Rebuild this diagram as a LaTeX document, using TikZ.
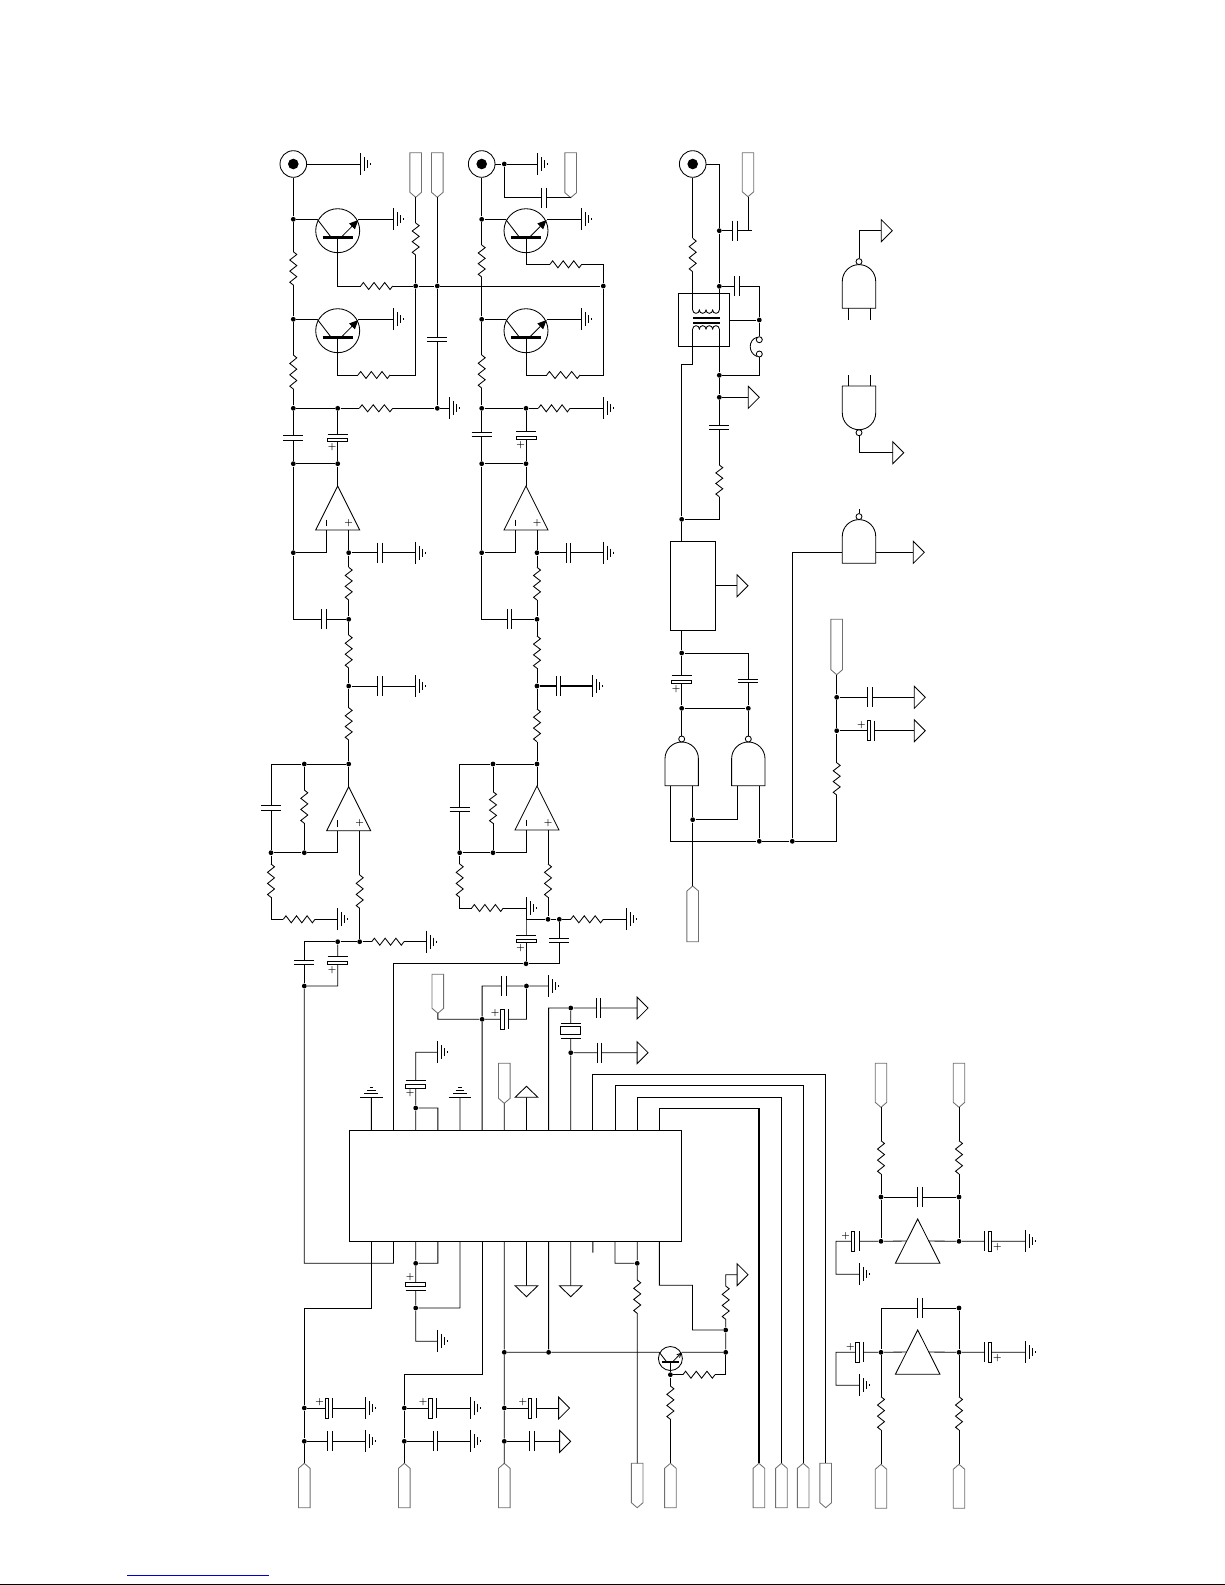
\documentclass[tikz,border=0pt]{standalone}
\usepackage{xcolor}
\usepackage{tikz}
\usetikzlibrary{arrows.meta}
\definecolor{LinkBlue}{HTML}{0000CC}
\definecolor{TagGrey}{HTML}{707070}

\tikzset{
  dot/.style={circle,fill=black,inner sep=0pt,minimum size=4.8pt},
  bubble/.style={circle,draw,fill=white,inner sep=0pt,minimum size=6pt},
  jackring/.style={circle,draw,inner sep=0pt,minimum size=26.6pt},
  jackcore/.style={circle,fill=black,inner sep=0pt,minimum size=10.6pt},
  plate/.style={line width=0.9pt},
  rub/.style={white,line width=2.6pt},
  plusmark/.style={inner sep=0pt,font=\fontsize{9.5}{10}\selectfont\bfseries},
  tagline/.style={draw=TagGrey,fill=white}
}

\newcounter{plusno}
\newcommand{\PlusAt}[2]{\stepcounter{plusno}\node[plusmark] (plus\theplusno) at ({#1},{#2}) {+};}

% terminals: each one leaves a named coordinate for the wires
\newcommand{\GndR}[3]{\coordinate (#1) at (#2,#3);
  \foreach \dd/\hh in {0/11,4/7,7/4,10/1} \draw ({#2+\dd},{#3-\hh}) -- ({#2+\dd},{#3+\hh});}
\newcommand{\GndU}[3]{\coordinate (#1) at (#2,#3);
  \foreach \dd/\hh in {0/11.4,3.4/7,6.7/4.3,10/1.8} \draw ({#2-\hh},{#3-\dd}) -- ({#2+\hh},{#3-\dd});}
\newcommand{\TriR}[3]{\coordinate (#1) at (#2,#3);
  \draw (#2,{#3-11}) -- ({#2+11},#3) -- (#2,{#3+11}) -- cycle;}
\newcommand{\TriU}[3]{\coordinate (#1) at (#2,#3);
  \draw ({#2-11.4},#3) -- (#2,{#3-11}) -- ({#2+11.4},#3) -- cycle;}
\newcommand{\TriD}[3]{\coordinate (#1) at (#2,#3);
  \draw ({#2-11.4},#3) -- (#2,{#3+11}) -- ({#2+11.4},#3) -- cycle;}
\newcommand{\TagD}[4]{\coordinate (#1) at (#2,#4);
  \coordinate (#1-top) at (#2,#3);
  \draw[tagline] ({#2-5.8},#3) -- ({#2+5.8},#3) -- ({#2+5.8},{#4-5}) -- (#2,#4) -- ({#2-5.8},{#4-5}) -- cycle;}
\newcommand{\TagU}[4]{\coordinate (#1) at (#2,#3);
  \draw[tagline] ({#2-5.8},#4) -- ({#2+5.8},#4) -- ({#2+5.8},{#3+5}) -- (#2,#3) -- ({#2-5.8},{#3+5}) -- cycle;}

% larger parts
\newcommand{\OpAmp}[3]{\coordinate (#1-o) at (#2,#3);
  \coordinate (#1-m) at ({#2-11},{#3+44});
  \coordinate (#1-p) at ({#2+11},{#3+44});
  \draw (#2,#3) -- ({#2-22},{#3+44}) -- ({#2+22},{#3+44}) -- cycle;
  \draw ({#2-11},{#3+33.5}) -- ({#2-11},{#3+40});
  \PlusAt{#2+11}{#3+36.7}}
\newcommand{\BufUp}[3]{\coordinate (#1-l) at ({#2-11},{#3+22});
  \coordinate (#1-r) at ({#2+11},{#3+22});
  \draw (#2,#3) -- ({#2-22.3},{#3+44.3}) -- ({#2+22.3},{#3+44.3}) -- cycle;}
\newcommand{\Npn}[5]{\begin{scope}[shift={(#2,#3)},scale=#4]
  \coordinate (#1-c) at (-20.4,-11.4);
  \coordinate (#1-e) at (20.6,-11.4);
  \coordinate (#1-b) at (0,6.6);
  \draw (0,0) circle[radius=22];
  \draw[line width=#4*2.7pt] (-15,6.6) -- (15,6.6);
  \draw (#1-c) -- (-7,6);
  \draw[#5] (4,6) -- (20.6,-10.7);
  \end{scope}}
\newcommand{\NandUp}[3]{\coordinate (#1-a) at ({#2-11},#3);
  \coordinate (#1-b) at ({#2+11},#3);
  \coordinate (#1-l) at ({#2-16.7},{#3-11});
  \coordinate (#1-r) at ({#2+16.7},{#3-11});
  \draw ({#2-16.7},#3) -- ({#2-16.7},{#3-27}) arc[start angle=180,end angle=0,radius=16.7pt] -- ({#2+16.7},#3) -- cycle;
  \node[bubble] (#1-q) at (#2,{#3-46.7}) {};}
\newcommand{\NandDown}[3]{\coordinate (#1-a) at ({#2-11},#3);
  \coordinate (#1-b) at ({#2+11},#3);
  \draw ({#2-16.7},#3) -- ({#2-16.7},{#3+27}) arc[start angle=180,end angle=360,radius=16.7pt] -- ({#2+16.7},#3) -- cycle;
  \node[bubble] (#1-q) at (#2,{#3+46.7}) {};}

% parts that sit on a wire, drawn after the wires
\newcommand{\ResV}[3]{\draw[rub] (#1,#2) -- (#1,#3);
  \draw (#1,#2) \foreach \ss/\nn in {3.5/1,-7/2,7/2,-7/2,7/2,-7/2,3.5/1} { -- ++(\ss,{(#3-#2)/12*\nn}) };}
\newcommand{\ResH}[3]{\draw[rub] (#2,#1) -- (#3,#1);
  \draw (#2,#1) \foreach \ss/\nn in {-3.5/1,7/2,-7/2,7/2,-7/2,7/2,-3.5/1} { -- ++({(#3-#2)/12*\nn},\ss) };}
\newcommand{\CapV}[3]{\draw[rub] (#1,#2) -- (#1,#3);
  \draw[plate] ({#1-10},#2) -- ({#1+10},#2) ({#1-10},#3) -- ({#1+10},#3);}
\newcommand{\CapH}[3]{\draw[rub] (#2,#1) -- (#3,#1);
  \draw[plate] (#2,{#1-10}) -- (#2,{#1+10}) (#3,{#1-10}) -- (#3,{#1+10});}
\newcommand{\PolarV}[4]{\fill[white] ({#1-8},#2) rectangle ({#1+8},#3);
  \draw[plate] ({#1-10},#2) -- ({#1+10},#2);
  \draw[fill=white] ({#1-10},#3) rectangle ({#1+10},{#3+3.5});
  \PlusAt{#1-5.5}{#4}}
\newcommand{\PolarH}[5]{\fill[white] (#2,{#1-8}) rectangle (#3,{#1+8});
  \draw[plate] (#2,{#1-10}) -- (#2,{#1+10});
  \draw[fill=white] (#3,{#1-10}) rectangle ({#3+3.5},{#1+10});
  \PlusAt{#4}{#5}}

\begin{document}
\begin{tikzpicture}[x=1pt,y=-1pt,line width=0.85pt,
    bigtip/.style={-{Triangle[length=9pt,width=8pt]}},
    smalltip/.style={-{Straight Barb[length=4pt,width=4pt]}}]
  \useasboundingbox (0,0) rectangle (1225,1585);

  % Footer rules
  \draw[LinkBlue] (127.3,1575) -- (268.7,1575);
  \draw (0,1584.2) -- (1225,1584.2);

  % Jacks
  \foreach \n/\x in {ja/293.3,jb/481.7,jc/692.7} {
    \node[jackring] (\n) at (\x,164) {};
    \node[jackcore] (\n-c) at (\x,164) {};
  }

  % Junction dots
  \foreach \n/\x/\y in {
    a1/293.3/219.3,a2/293.3/319.3,a3/293.3/408.3,a4/337.7/408.3,a5/293.3/463.7,a6/337.7/463.7,
    a7/293.3/552.7,a8/348.7/552.7,a9/348.7/619.3,a10/348.7/686,a11/348.7/764,a12/304.3/764,
    a13/271/852.7,a14/304.3/852.7,a15/359.7/941.7,a16/337.7/941.7,a17/304.3/986,
    s1/415.7/286,s2/437.3/286,s3/603.3/286,s4/437.3/408.3,
    b1/481.7/219.3,b2/481.7/319.3,b3/481.7/408.3,b4/526/408.3,b5/481.7/463.7,b6/526/463.7,
    b7/481.7/552.7,b8/537/552.7,b9/537/619.3,b10/537/686,b11/537/764,b12/493/764,
    b13/459.7/852.7,b14/493/852.7,b15/548/919.3,b16/559.3/919.3,b17/526/963.7,b18/504.3/164,
    c1/719.3/230.7,c2/719.3/286.3,c3/759.3/320,c4/719.3/375.3,c5/719.3/397.3,c6/681.7/519.3,
    c7/681.7/653,c8/681.7/708.3,c9/748.3/708.3,c10/692.7/819.7,c11/759.3/841.3,c12/792.3/841.3,
    c13/836.7/697.3,c14/836.7/730.7,
    d1/415.7/1108,d2/482.15/1019.3,d3/526.45/986,d4/570.75/1008,d5/570.75/1052.7,
    e1/415.7/1263.3,e2/415.7/1308,e3/637.2/1263.3,e4/725.7/1330,e5/725.7/1352.3,
    e6/548.6/1352.3,e7/504.3/1352.3,e8/670.4/1374.7,
    f1/304.3/1408,f2/304.3/1441.3,f3/404.3/1408,f4/404.3/1441.3,f5/504.3/1408,f6/504.3/1441.3,
    g1/881/1197,g2/959/1197,g3/881/1241.3,g4/959/1241.3,g5/959/1308,g6/881/1352.3,g7/959/1352.3
  } \node[dot] (\n) at (\x,\y) {};

  % Corners and free ends
  \foreach \n/\x/\y in {
    sc1/415.7/375,cb1/603.3/264.3,cb2/603.3/375,bw1/526/919.3,
    ct1/692.7/310,ct2/719.3/310,ct3/692.7/329,ct4/719.3/329,cw1/751.7/230.7,cw4/681.7/364,
    h11/825.7/1074.3,h12/803.2/1085.7,h13/781.4/1097.3,h14/758.9/1108.3,
    w1/393.55/1263.3,w2/304.3/1308.3,w3/404.3/1374.3,w4/692.5/1285.3,
    hc1/836/1241.3,hc2/836/1352.3
  } \coordinate (\n) at (\x,\y);

  % Grounds
  \foreach \n/\x/\y in {
    ga1/360/164,ga2/393.3/219.3,ga3/393.3/319.3,ga4/449.3/408.3,ga5/415.7/552.7,ga6/415.7/686,
    ga7/337.7/919.3,ga8/426/941.7,
    gb1/537.3/164,gb2/581.7/219.3,gb3/581.7/319.3,gb4/603.3/408.3,gb5/603.3/552.7,gb6/592.7/686,
    gb7/526/908,gb8/626/919.3,
    gc1/437.85/1052.3,gc2/548.6/986,gc3/437.85/1341.3,
    gf1/365.7/1408,gf2/365.7/1441.3,gf3/470.4/1408,gf4/470.4/1441.3,
    gh1/1025/1241.3,gh2/859.3/1274.3,gh3/1025/1352.3,gh4/859.3/1385.3
  } {\GndR{\n}{\x}{\y}}
  \GndU{gu1}{371.4}{1097.3}
  \GndU{gu2}{460}{1097.3}

  % Arrow flags
  \foreach \n/\x/\y in {
    tc1/748.3/397.3,tc2/881.3/230.7,tc3/892.7/452.7,tc4/913.3/552.3,tc5/737/585.8,
    tc6/914.3/697.3,tc7/914.3/730.7,td1/637.1/1008,td2/637.1/1052.7,te1/737.1/1274.7,
    tf1/558.6/1408,tf2/559.6/1441.3
  } {\TriR{\n}{\x}{\y}}
  \TriU{tu1}{526.45}{1097.3}
  \TriD{tv1}{526.45}{1285.7}
  \TriD{tv2}{570.75}{1285.7}

  % Pointed tags
  \foreach \n/\x/\p/\q in {
    k1/415.7/152.7/197.3,k2/437.3/152.7/197.3,k3/570.7/152.7/197.7,k4/748/152.7/196.7,
    k5/836.7/619.3/674.7,k6/437.85/974.3/1013.3,k7/504.3/1063.3/1103.3,
    k8/881/1063.3/1107.3,k9/959/1063.3/1107.3,k10/637.2/1463.3/1507.7,k11/825.7/1463.3/1507.7
  } {\TagD{\n}{\x}{\p}{\q}}
  \foreach \n/\x/\p/\q in {
    u1/692.7/886/941.7,u2/304.3/1463.3/1507.7,u3/404.3/1463.3/1507.7,u4/504.3/1463.3/1507.7,
    u5/670.4/1463.3/1507.7,u6/758.9/1463.3/1507.7,u7/781.4/1463.3/1507.7,u8/803.2/1463.3/1507.7,
    u9/881/1464.3/1508.3,u10/959/1464.3/1508.3
  } {\TagU{\n}{\x}{\p}{\q}}

  % Main chip
  \draw (349.3,1130) rectangle (681.8,1241.7);
  \foreach \i [evaluate={\px=371.4+(\i-1)*22.15;}] in {1,...,14} {
    \coordinate (pt\i) at (\px,1130);
    \coordinate (pb\i) at (\px,1241.7);
  }

  % Transistors, op amps, buffers
  \Npn{qa}{337.7}{230.7}{1}{bigtip}
  \Npn{qb}{337.7}{330.7}{1}{bigtip}
  \Npn{qc}{526}{230.7}{1}{bigtip}
  \Npn{qd}{526}{330.7}{1}{bigtip}
  \Npn{qs}{670.4}{1358.5}{0.545}{smalltip}
  \OpAmp{oa}{337.7}{486}
  \OpAmp{ob}{348.7}{786.7}
  \OpAmp{oc}{526}{486}
  \OpAmp{od}{537}{786}
  \BufUp{ba}{917.7}{1219}
  \BufUp{bb}{917.7}{1330}

  % Gates
  \NandUp{na}{859}{308.3}
  \NandDown{nb}{859}{386}
  \NandUp{nc}{859}{563.3}
  \NandUp{nd}{681.7}{785.7}
  \NandUp{ne}{748.3}{785.7}

  % Transformer and regulator
  \node[draw,minimum width=51.3pt,minimum height=52.6pt,inner sep=0pt] (tbox) at (703.65,320) {};
  \node[draw,minimum width=45.4pt,minimum height=89pt,inner sep=0pt] (reg) at (693,585.8) {};
  \draw (ct1) \foreach \i in {1,...,4} {arc[start angle=180,end angle=360,radius=3.325pt]};
  \draw (ct3) \foreach \i in {1,...,4} {arc[start angle=180,end angle=0,radius=3.325pt]};
  \draw[line width=2pt] (693.3,318) -- (720,318) (693.3,323) -- (720,323);
  \node[bubble] (sw1) at (759.3,339.7) {};
  \node[bubble] (sw2) at (759.3,354) {};
  \draw (sw1.north west) .. controls (748,340) and (748,353) .. (sw2.south west);

  % Channel 1 wires
  \draw (ja.east) -- (ga1);
  \draw (ja.south) -- (a1) -- (a2) -- (a3) -- (a5) -- (a7) |- (a9);
  \draw (a1) -- (qa-c) (qa-e) -- (ga2) (a2) -- (qb-c) (qb-e) -- (ga3);
  \draw (qa-b) |- (s1) -- (s2) -- (s3);
  \draw (qb-b) |- (sc1) -- (s1) -- (k1);
  \draw (k2) -- (s2) -- (s4) -- (ga4);
  \draw (a3) -- (a4) -- (s4);
  \draw (a4) -- (a6) -- (oa-o) (a5) -- (a6);
  \draw (oa-m) |- (a7) (oa-p) -- (a8) -- (ga5);
  \draw (a8) -- (a9) -- (a10) -- (a11) -- (ob-o) (a10) -- (ga6);
  \draw (a11) -- (a12) -| (a13) -- (a14) -- (a12);
  \draw (ob-m) |- (a14) (a13) |- (ga7);
  \draw (ob-p) -- (a15) -- (ga8) (a15) -- (a16) -| (a17);
  \draw (a16) |- (a17) |- (w1) -- (pb2);

  % Channel 2 wires
  \draw (jb.east) -- (b18) -- (gb1) (b18) |- (k3);
  \draw (jb.south) -- (b1) -- (b2) -- (b3) -- (b5) -- (b7) |- (b9);
  \draw (b1) -- (qc-c) (qc-e) -- (gb2) (b2) -- (qd-c) (qd-e) -- (gb3);
  \draw (qc-b) |- (cb1) -- (s3) -- (cb2) -| (qd-b);
  \draw (b3) -- (b4) -- (gb4) (b4) -- (b6) -- (oc-o) (b5) -- (b6);
  \draw (oc-m) |- (b7) (oc-p) -- (b8) -- (gb5);
  \draw (b8) -- (b9) -- (b10) -- (b11) -- (od-o);
  \draw[line width=1.4pt] (b10) -- (gb6);
  \draw (b11) -- (b12) -| (b13) -- (b14) -- (b12);
  \draw (od-m) |- (b14) (b13) |- (gb7) -- (bw1) -- (b17);
  \draw (od-p) -- (b15) (bw1) -- (b15) -- (b16) -- (gb8);
  \draw (b16) |- (b17) -| (pt2);

  % Output stage wires
  \draw (jc.south) -- (ct1);
  \draw (jc.east) -| (c1) -- (c2) -- (ct2);
  \draw (c1) -- (cw1) (k4) -- (k4 |- cw1);
  \draw (c2) -| (c3) -- (tbox.east) (c3) -- (sw1) (sw2) |- (c4);
  \draw (ct3) |- (cw4) -- (c6) -- (c6 |- reg.north);
  \draw (ct4) -- (c4) -- (c5) -- (tc1) (c5) |- (c6);
  \draw (reg.east) -- (tc5);
  \draw (c6 |- reg.south) -- (c7) -- (c8) -- (nd-q);
  \draw (c7) -| (c9) -- (ne-q) (c8) -- (c9);
  \draw (nd-a) |- (c11) -- (c12) -| (c14) -- (c13) -- (k5);
  \draw (nd-b) -- (c10) -- (u1) (c10) -| (ne-a) (ne-b) -- (c11);
  \draw (c12) |- (nc-l) (nc-r) -- (tc4);
  \draw (c13) -- (tc6) (c14) -- (tc7);
  \draw (na-q) |- (tc2) (nb-q) |- (tc3);
  \draw (na-a) -- ++(0,12) (na-b) -- ++(0,12);
  \draw (nb-a) -- ++(0,-11) (nb-b) -- ++(0,-11);
  \draw (nc-q) -- ++(0,-8);

  % Chip top side
  \draw (pt1) -- (gu1) (pt5) -- (gu2) (pt8) -- (tu1) (pt7) -- (k7);
  \draw (pt3) -- (d1) |- (gc1) (pt4) |- (d1);
  \draw (pt6) -- (d2) |- (d3) -- (gc2) (k6) |- (d2) -| (d3);
  \draw (pt9) |- (d4) -- (td1) (d4) -- (d5) -- (td2) (d5) -- (pt10);
  \draw (pt11) |- (h11) -- (k11-top);
  \draw (pt12) |- (h12) -- (u8);
  \draw (pt13) |- (h13) -- (u7);
  \draw (pt14) |- (h14);
  \draw[line width=1.2pt] (h14) -- (u6);

  % Chip bottom side
  \draw (pb1) |- (w2) -- (f1) -- (f2) -- (u2);
  \draw (pb3) -- (e1) -- (e2) |- (gc3) (pb4) |- (e1) (e2) -| (pb5);
  \draw (pb6) |- (w3) -- (f3) -- (f4) -- (u3);
  \draw (pb7) -- (e7) -- (f5) -- (f6) -- (u4) (e7) -- (e6) -- (qs-c) (pb9) -- (e6);
  \draw (pb8) -- (tv1) (pb10) -- (tv2) (pb11) -- ++(0,11);
  \draw (pb12) |- (e3) (pb13) -- (e3) -- (k10-top);
  \draw (pb14) |- (w4) |- (e4) |- (te1) (e4) -- (e5) -- (qs-e);
  \draw (e5) |- (e8) (qs-b) -- (e8) -- (u5);
  \draw (f1) -- (gf1) (f2) -- (gf2) (f3) -- (gf3) (f4) -- (gf4) (f5) -- (tf1) (f6) -- (tf2);

  % Audio buffers
  \draw (k8) -- (g1) -- (g3) (k9) -- (g2) -- (g4) (g1) -- (g2);
  \draw (g3) -- (ba-l) (ba-r) -- (g4) -- (gh1) (g3) -- (hc1) |- (gh2);
  \draw (g5) -| (g6) (g5) -- (g7);
  \draw (g6) -- (bb-l) (bb-r) -- (g7) -- (gh3) (g6) -- (hc2) |- (gh4);
  \draw (g6) -- (u9) (g7) -- (u10);

  % Resistors
  \foreach \x/\p/\q in {
    293.3/251.7/285,293.3/355/389,415.7/223/255,481.7/245/277,481.7/355/388,
    348.7/567.3/600,348.7/635/668,348.7/707.7/740,304.3/790/823.3,271/864/897.3,359.7/875/908.3,
    537/567.3/600,537/636/668.3,537/709/741.7,493/791.7/823.3,459.7/864/897.3,548/864/897.3,
    692.7/238.3/271.7,719.3/465/496.7,836.7/762.7/795,
    637.2/1280/1313.3,725.7/1286/1319.3,670.4/1386/1419.3,
    881/1140.7/1174,959/1140.7/1174,881/1396.7/1430,959/1396.7/1430
  } {\ResV{\x}{\p}{\q}}
  \foreach \y/\p/\q in {
    286/360.7/392.7,375/358/390,408.3/359.3/392.7,264.3/550/581.7,375/546.7/580,408.3/538.3/570,
    919.3/283.3/315,941.7/371.7/404,908/471.7/503.3,919.3/570.7/603.3,1374.7/682.9/715
  } {\ResH{\y}{\p}{\q}}

  % Capacitors
  \foreach \x/\p/\q in {
    437.3/337.3/341.7,293.3/435.7/440,481.7/432.3/436.7,304.3/960.7/964.3,271/805.7/810,
    459.7/807.3/811.7,559.3/938.3/942.3,719.3/425/429.3,748.3/679/682.7
  } {\CapV{\x}{\p}{\q}}
  \foreach \y/\p/\q in {
    552.7/377.3/382.7,619.3/321.7/326,686/377.3/382.7,197.7/541.7/546.7,552.7/566/570.7,
    619.3/507.7/511.7,686/556.7/560.7,230.7/732.7/737.3,286.3/734.3/739.7,697.3/867.3/872.7,
    986/501.4/506,1008/596.4/600.7,1052.7/597/601,
    1441.3/327.5/332.1,1441.3/433.6/437.9,1441.3/529.6/534.6,1197/917.7/922.3,1308/917.7/922.3
  } {\CapH{\y}{\p}{\q}}

  % Polarised capacitors
  \PolarV{337.7}{434}{438.3}{447.3}
  \PolarV{526}{431.7}{436}{445}
  \PolarV{337.7}{956.7}{961}{970.3}
  \PolarV{526}{935}{939.3}{948.3}
  \PolarV{681.7}{675.7}{680.3}{689.3}
  \PolarV{415.7}{1080.3}{1084.5}{1093.3}
  \PolarV{415.7}{1290.7}{1282.7}{1276.7}
  \PolarH{730.7}{874.7}{867}{861.3}{725}
  \PolarH{1019.3}{508.2}{500.7}{495}{1013.3}
  \PolarH{1408}{332.9}{325.4}{319.6}{1402.3}
  \PolarH{1408}{436.4}{428.6}{423.2}{1402.3}
  \PolarH{1408}{536.4}{528.2}{522.9}{1402.3}
  \PolarH{1241.3}{859.3}{851.3}{845.7}{1235.7}
  \PolarH{1352.3}{863.7}{855.7}{850.3}{1346.7}
  \PolarH{1241.3}{984.3}{988.3}{997.3}{1246.7}
  \PolarH{1352.3}{984.3}{988.3}{997.3}{1357.7}

  % Crystal
  \draw[rub] (570.75,1023.3) -- (570.75,1038.7);
  \draw[plate] (560.75,1023.3) -- (580.75,1023.3) (560.75,1038.7) -- (580.75,1038.7);
  \draw[fill=white] (560.75,1026.7) rectangle (580.75,1034.3);
\end{tikzpicture}
\end{document}
